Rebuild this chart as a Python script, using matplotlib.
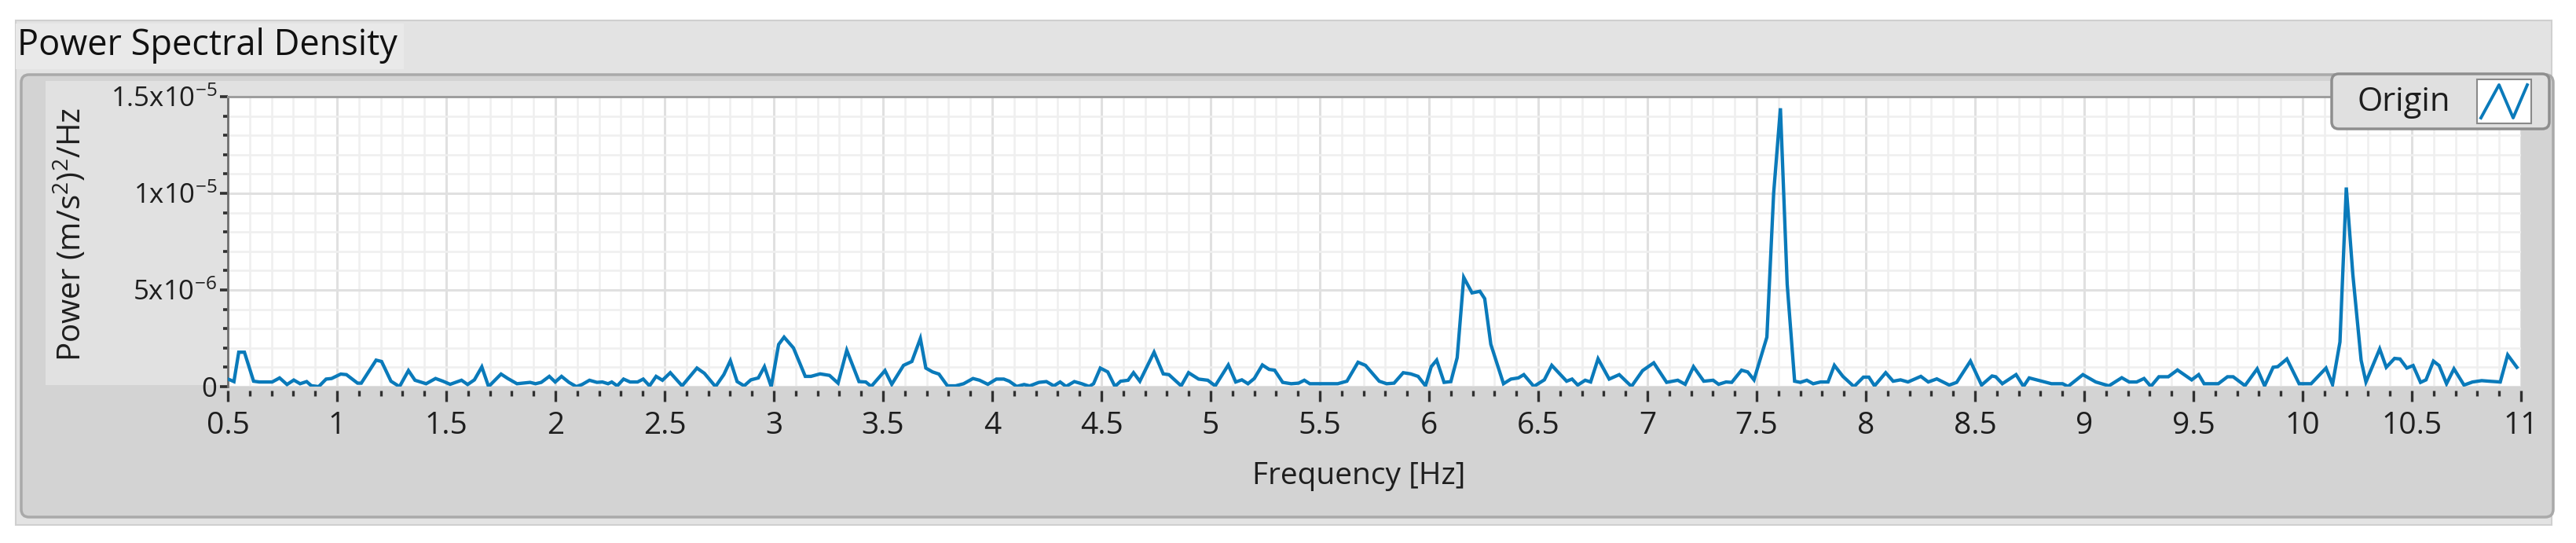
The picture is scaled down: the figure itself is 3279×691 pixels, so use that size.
import matplotlib
matplotlib.use("Agg")
import matplotlib.pyplot as plt
from matplotlib.patches import FancyBboxPatch
from matplotlib.lines import Line2D
from matplotlib.transforms import IdentityTransform
from matplotlib.ticker import MultipleLocator, FixedLocator, FixedFormatter
import numpy as np

# ---------------- data ----------------
freq_hz = [
    0.50, 0.51, 0.528, 0.55, 0.576, 0.618, 0.644, 0.703, 0.737, 0.771, 0.802, 0.831, 0.861,
    0.882, 0.916, 0.950, 0.975, 1.017, 1.043, 1.094, 1.111, 1.179, 1.204, 1.247, 1.286, 1.327,
    1.357, 1.408, 1.451, 1.485, 1.518, 1.570, 1.598, 1.629, 1.663, 1.694, 1.751, 1.782, 1.824,
    1.884, 1.909, 1.935, 1.972, 1.999, 2.028, 2.062, 2.096, 2.122, 2.156, 2.190, 2.215, 2.241,
    2.258, 2.283, 2.312, 2.342, 2.376, 2.402, 2.431, 2.461, 2.490, 2.526, 2.580, 2.648, 2.682,
    2.733, 2.771, 2.801, 2.832, 2.864, 2.895, 2.929, 2.957, 2.988, 3.022, 3.047, 3.09, 3.144,
    3.17, 3.212, 3.255, 3.294, 3.334, 3.390, 3.421, 3.446, 3.509, 3.540, 3.594, 3.632, 3.671,
    3.696, 3.727, 3.756, 3.795, 3.832, 3.869, 3.912, 3.942, 3.980, 4.019, 4.053, 4.078, 4.112,
    4.146, 4.172, 4.214, 4.248, 4.282, 4.311, 4.338, 4.376, 4.410, 4.444, 4.464, 4.495, 4.529,
    4.562, 4.588, 4.622, 4.647, 4.676, 4.741, 4.783, 4.809, 4.865, 4.899, 4.945, 4.987, 5.021,
    5.081, 5.115, 5.143, 5.171, 5.200, 5.237, 5.268, 5.293, 5.330, 5.369, 5.403, 5.429, 5.454,
    5.582, 5.624, 5.675, 5.709, 5.772, 5.806, 5.840, 5.882, 5.916, 5.950, 5.984, 6.010, 6.035,
    6.069, 6.100, 6.129, 6.159, 6.197, 6.233, 6.255, 6.283, 6.341, 6.375, 6.409, 6.434, 6.480,
    6.528, 6.562, 6.630, 6.655, 6.681, 6.715, 6.740, 6.774, 6.825, 6.871, 6.927, 6.978, 7.029,
    7.088, 7.139, 7.173, 7.211, 7.258, 7.301, 7.326, 7.360, 7.386, 7.431, 7.459, 7.488, 7.547,
    7.578, 7.609, 7.640, 7.674, 7.700, 7.730, 7.759, 7.793, 7.827, 7.856, 7.895, 7.946, 7.989,
    8.014, 8.040, 8.091, 8.125, 8.159, 8.193, 8.252, 8.286, 8.325, 8.382, 8.416, 8.479, 8.530,
    8.578, 8.595, 8.625, 8.688, 8.722, 8.748, 8.782, 8.850, 8.901, 8.926, 8.994, 9.053, 9.113,
    9.172, 9.206, 9.240, 9.274, 9.305, 9.342, 9.385, 9.427, 9.492, 9.524, 9.549, 9.614, 9.656,
    9.682, 9.736, 9.792, 9.826, 9.865, 9.886, 9.928, 9.984, 10.039, 10.107, 10.137, 10.171,
    10.200, 10.230, 10.268, 10.290, 10.353, 10.383, 10.421, 10.446, 10.477, 10.506, 10.540,
    10.565, 10.599, 10.625, 10.659, 10.693, 10.739, 10.778, 10.820, 10.854, 10.905, 10.939,
    10.981,
]

# power spectral density in units of 1e-6 (m/s^2)^2/Hz
power_e6 = [
    0.39, 0.35, 0.26, 1.78, 1.78, 0.28, 0.24, 0.24, 0.45, 0.11, 0.34, 0.15, 0.26,
    0.05, 0.00, 0.39, 0.42, 0.65, 0.62, 0.18, 0.18, 1.37, 1.30, 0.28, 0.00, 0.83,
    0.33, 0.15, 0.42, 0.28, 0.12, 0.33, 0.11, 0.35, 1.02, 0.00, 0.65, 0.42, 0.15,
    0.22, 0.15, 0.22, 0.53, 0.24, 0.53, 0.22, 0.00, 0.11, 0.33, 0.22, 0.24, 0.15,
    0.24, 0.04, 0.39, 0.24, 0.24, 0.39, 0.04, 0.53, 0.33, 0.72, 0.04, 0.96, 0.69,
    0.00, 0.62, 1.34, 0.26, 0.04, 0.35, 0.45, 1.03, 0.00, 2.18, 2.56, 2.00, 0.53,
    0.53, 0.66, 0.58, 0.18, 1.88, 0.26, 0.24, 0.01, 0.83, 0.12, 1.10, 1.30, 2.49,
    0.96, 0.76, 0.65, 0.04, 0.04, 0.15, 0.42, 0.33, 0.12, 0.39, 0.39, 0.28, 0.01,
    0.11, 0.04, 0.22, 0.26, 0.04, 0.24, 0.01, 0.26, 0.15, 0.01, 0.15, 0.96, 0.76,
    0.01, 0.28, 0.33, 0.72, 0.28, 1.78, 0.66, 0.62, 0.04, 0.72, 0.39, 0.33, 0.04,
    1.12, 0.24, 0.35, 0.15, 0.42, 1.12, 0.89, 0.85, 0.22, 0.15, 0.18, 0.33, 0.15,
    0.15, 0.28, 1.26, 1.10, 0.28, 0.15, 0.18, 0.72, 0.66, 0.53, 0.04, 1.03, 1.37,
    0.22, 0.26, 1.50, 5.65, 4.85, 4.93, 4.55, 2.19, 0.15, 0.39, 0.45, 0.62, 0.01,
    0.35, 1.10, 0.28, 0.39, 0.08, 0.33, 0.24, 1.44, 0.39, 0.62, 0.01, 0.83, 1.23,
    0.22, 0.33, 0.12, 1.03, 0.28, 0.33, 0.12, 0.24, 0.22, 0.85, 0.76, 0.35, 2.56,
    10.0, 14.4, 5.30, 0.28, 0.22, 0.33, 0.15, 0.24, 0.24, 1.10, 0.53, 0.00, 0.49,
    0.49, 0.04, 0.72, 0.28, 0.35, 0.24, 0.53, 0.24, 0.40, 0.08, 0.22, 1.32, 0.08,
    0.55, 0.51, 0.15, 0.62, 0.01, 0.45, 0.35, 0.15, 0.15, 0.01, 0.62, 0.24, 0.04,
    0.46, 0.24, 0.24, 0.42, 0.01, 0.51, 0.51, 0.86, 0.35, 0.62, 0.15, 0.15, 0.51,
    0.51, 0.05, 0.92, 0.04, 1.00, 1.03, 1.43, 0.15, 0.15, 0.96, 0.11, 2.31,
    10.3, 5.80, 1.36, 0.24, 1.95, 1.00, 1.46, 1.43, 0.96, 1.09, 0.22,
    0.35, 1.32, 1.09, 0.15, 0.92, 0.08, 0.24, 0.31, 0.28, 0.24, 1.64,
    1.00,
]

x_major_ticks = [0.5, 1, 1.5, 2, 2.5, 3, 3.5, 4, 4.5, 5, 5.5, 6, 6.5, 7, 7.5, 8, 8.5,
                 9, 9.5, 10, 10.5, 11]
x_tick_labels = ["0.5", "1", "1.5", "2", "2.5", "3", "3.5", "4", "4.5", "5", "5.5",
                 "6", "6.5", "7", "7.5", "8", "8.5", "9", "9.5", "10", "10.5", "11"]
y_major_ticks = [0, 5e-6, 1e-5, 1.5e-5]
y_tick_labels = ["0", r"5x10$^{-6}$", r"1x10$^{-5}$", r"1.5x10$^{-5}$"]

title_text = "Power Spectral Density"
x_label = "Frequency [Hz]"
y_label = r"Power (m/s$^{2}$)$^{2}$/Hz"
legend_label = "Origin"

# ---------------- styling ----------------
FONT = "Open Sans"
plt.rcParams["font.family"] = [FONT, "DejaVu Sans"]
plt.rcParams["mathtext.fontset"] = "custom"
plt.rcParams["mathtext.rm"] = FONT
plt.rcParams["mathtext.it"] = FONT
plt.rcParams["mathtext.bf"] = FONT

W, H = 3279, 691
DPI = 100
LINE_COLOR = "#0a7aba"
TEXT_COLOR = "#1e1e1e"

fig = plt.figure(figsize=(W / DPI, H / DPI), dpi=DPI, facecolor="white")
ID = IdentityTransform()


def box(x0, y0, x1, y1, fc, ec="none", lw=0, r=0, z=-10):
    """Rectangle in pixel coordinates measured from the top-left corner."""
    style = f"round,pad=0,rounding_size={r}" if r else "square,pad=0"
    p = FancyBboxPatch((x0, H - y1), x1 - x0, y1 - y0, boxstyle=style,
                       transform=ID, facecolor=fc, edgecolor=ec, linewidth=lw,
                       zorder=z)
    fig.add_artist(p)
    return p


# outer frame and title bar
box(20, 26, 3248, 668, "#e3e3e3", "#cfcfcf", 1.5, z=-20)
box(20, 30, 514, 88, "#e9e9e9", z=-19)
# inner graph panel
box(27, 95, 3250, 658, "#d3d3d3", "#a9a9a9", 2.5, r=10, z=-18)
# lighter area behind the scale labels / above the plot
box(58, 103, 3209, 490, "#e1e1e1", z=-17)

# plot area
ax_left, ax_right = 290, 3209
ax_top, ax_bottom = 123, 492
ax = fig.add_axes([ax_left / W, 1 - ax_bottom / H, (ax_right - ax_left) / W,
                   (ax_bottom - ax_top) / H])
ax.set_facecolor("white")

freq = np.array(freq_hz)
power = np.array(power_e6) * 1e-6
ax.plot(freq, power, color=LINE_COLOR, lw=3.1, solid_joinstyle="miter", zorder=3)

ax.set_xlim(0.5, 11)
ax.set_ylim(0, 1.5e-5)

ax.xaxis.set_major_locator(FixedLocator(x_major_ticks))
ax.xaxis.set_major_formatter(FixedFormatter(x_tick_labels))
ax.xaxis.set_minor_locator(MultipleLocator(0.1))
ax.yaxis.set_major_locator(FixedLocator(y_major_ticks))
ax.yaxis.set_major_formatter(FixedFormatter(y_tick_labels))
ax.yaxis.set_minor_locator(MultipleLocator(1e-6))

ax.set_axisbelow(True)
ax.grid(which="major", color="#e0e0e0", lw=2.2)
ax.grid(which="minor", color="#efefef", lw=1.8)

for s in ("right", "bottom"):
    ax.spines[s].set_visible(False)
ax.spines["bottom"].set_position(("outward", 3.5))
ax.spines["top"].set_color("#9a9a9a")
ax.spines["top"].set_linewidth(2)
ax.spines["left"].set_color("#707070")
ax.spines["left"].set_linewidth(2)

ax.tick_params(axis="x", which="major", direction="out", length=10, width=2.4,
               color="#303030", pad=9, labelsize=28, labelcolor=TEXT_COLOR)
ax.tick_params(axis="x", which="minor", direction="out", length=5, width=2.4,
               color="#303030")
ax.tick_params(axis="y", which="major", direction="out", length=7, width=2.6,
               color="#303030", pad=3, labelsize=25, labelcolor=TEXT_COLOR)
ax.tick_params(axis="y", which="minor", direction="out", length=4.5, width=2.6,
               color="#303030")

# axis titles
fig.text(1730 / W, 1 - 606 / H, x_label, ha="center", va="center", fontsize=28,
         color=TEXT_COLOR)
fig.text(90 / W, 1 - 298 / H, y_label, ha="center", va="center", fontsize=29,
         rotation=90, color=TEXT_COLOR)
# graph title
fig.text(22 / W, 1 - 58 / H, title_text, ha="left", va="center", fontsize=32.5,
         color="#111111")

# legend (plot legend box at top right)
box(2968, 94, 3245, 164, "#e0e0e0", "#8e8e8e", 2.5, r=9, z=5)
fig.text(3060 / W, 1 - 130 / H, legend_label, ha="center", va="center", fontsize=30,
         color=TEXT_COLOR, zorder=6)
box(3153, 101, 3222, 157, "white", "#8a8a8a", 1.5, z=6)
fig.add_artist(Line2D([3158, 3181, 3199, 3217], [H - 150, H - 108, H - 150, H - 108],
                      transform=ID, color=LINE_COLOR, lw=2.8, zorder=7))

fig.savefig("out.png", dpi=DPI, facecolor="white")
